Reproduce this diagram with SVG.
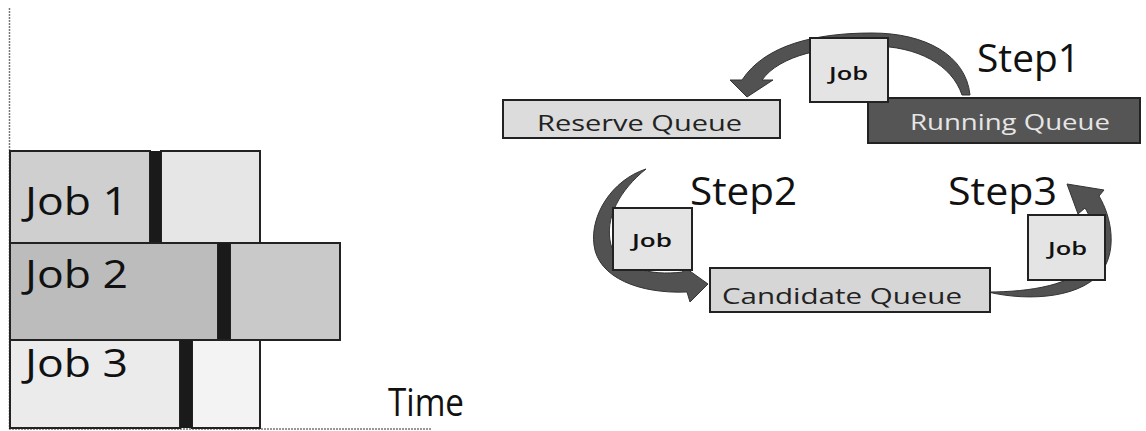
<svg xmlns="http://www.w3.org/2000/svg" width="1146" height="431" viewBox="0 0 1146 431">
  <style>
    .axis { stroke: #777; stroke-width: 1.5; fill: none; stroke-dasharray: 2 1; }
    .bar { stroke: #222; stroke-width: 2; }
    .sep { fill: #1a1a1a; }
    .big { font-family: "Open Sans", "DejaVu Sans", sans-serif; font-size: 38px; fill: #111; }
    .box { stroke: #222; stroke-width: 2; }
    .qlabel { font-family: "Open Sans", "DejaVu Sans", sans-serif; font-size: 21px; font-weight: 500; fill: #222; }
    .jlabel { font-family: "Open Sans", "DejaVu Sans", sans-serif; font-size: 18px; font-weight: 600; fill: #111; }
    .arrow { fill: #525252; stroke: #333; stroke-width: 1; }
  </style>

  <!-- Timeline chart -->
  <g id="timeline">
    <line class="axis" x1="9.5" y1="8" x2="9.5" y2="429"/>
    <line class="axis" x1="9" y1="429" x2="432" y2="429"/>
  </g>

  <g id="job1">
    <rect class="bar" x="10" y="151" width="140" height="92" fill="#cfcfcf"/>
    <rect class="bar" x="161" y="151" width="99" height="92" fill="#e6e6e6"/>
    <rect class="sep" x="150" y="151" width="11" height="92"/>
    <text class="big" x="25" y="215" textLength="103" lengthAdjust="spacingAndGlyphs">Job 1</text>
  </g>

  <g id="job2">
    <rect class="bar" x="10" y="243" width="208" height="97" fill="#bcbcbc"/>
    <rect class="bar" x="230" y="243" width="110" height="97" fill="#c9c9c9"/>
    <rect class="sep" x="218" y="243" width="12" height="97"/>
    <text class="big" x="25" y="288" textLength="103" lengthAdjust="spacingAndGlyphs">Job 2</text>
  </g>

  <g id="job3">
    <rect class="bar" x="10" y="340" width="170" height="88" fill="#ebebeb"/>
    <rect class="bar" x="192" y="340" width="68" height="88" fill="#f3f3f3"/>
    <rect class="sep" x="180" y="340" width="12" height="88"/>
    <text class="big" x="25" y="377" textLength="103" lengthAdjust="spacingAndGlyphs">Job 3</text>
  </g>

  <text id="time-label" class="big" x="388" y="416" textLength="76" lengthAdjust="spacingAndGlyphs">Time</text>

  <!-- Queue cycle: curved block arrows -->
  <g id="connectors">
    <path class="arrow" d="M970,95 C966,55 925,33 872,33 C815,33 765,45 742,80 L730,80 L747,97 L773,80 L762,80 C780,55 825,46 872,46 C918,46 952,65 962,95 Z"/>
    <path class="arrow" d="M646,169 C612,180 590,215 594,245 C598,278 640,294 687,292 L690,302 L708,284 L680,264 L683,272 C650,276 618,268 611,245 C604,218 620,190 646,169 Z"/>
    <path class="arrow" d="M988,292 C1030,302 1085,298 1104,268 C1116,248 1112,218 1099,196 L1104,190 L1067,184 L1078,214 L1085,208 C1094,222 1098,245 1090,262 C1075,285 1030,292 988,292 Z"/>
  </g>

  <g id="reserve-queue">
    <rect class="box" x="503" y="100" width="277" height="38" fill="#dcdcdc"/>
    <text class="qlabel" x="537" y="131" textLength="205" lengthAdjust="spacingAndGlyphs">Reserve Queue</text>
  </g>

  <g id="running-queue">
    <rect class="box" x="868" y="98" width="272" height="45" fill="#555"/>
    <text class="qlabel" x="910" y="130" textLength="200" lengthAdjust="spacingAndGlyphs" style="fill:#e6e6e6">Running Queue</text>
  </g>

  <g id="candidate-queue">
    <rect class="box" x="710" y="268" width="280" height="44" fill="#d6d6d6"/>
    <text class="qlabel" x="722" y="304" textLength="240" lengthAdjust="spacingAndGlyphs">Candidate Queue</text>
  </g>

  <g id="job-step1">
    <rect class="box" x="810" y="38" width="78" height="64" fill="#e4e4e4"/>
    <text class="jlabel" x="829" y="80" textLength="39" lengthAdjust="spacingAndGlyphs">Job</text>
  </g>

  <g id="job-step2">
    <rect class="box" x="613" y="208" width="79" height="62" fill="#e4e4e4"/>
    <text class="jlabel" x="632" y="247" textLength="40" lengthAdjust="spacingAndGlyphs">Job</text>
  </g>

  <g id="job-step3">
    <rect class="box" x="1028" y="215" width="77" height="65" fill="#e4e4e4"/>
    <text class="jlabel" x="1048" y="255" textLength="39" lengthAdjust="spacingAndGlyphs">Job</text>
  </g>

  <g id="step-labels">
    <text class="big" x="977" y="72" textLength="103" lengthAdjust="spacingAndGlyphs">Step1</text>
    <text class="big" x="690" y="205" textLength="107" lengthAdjust="spacingAndGlyphs">Step2</text>
    <text class="big" x="948" y="205" textLength="109" lengthAdjust="spacingAndGlyphs">Step3</text>
  </g>
</svg>
